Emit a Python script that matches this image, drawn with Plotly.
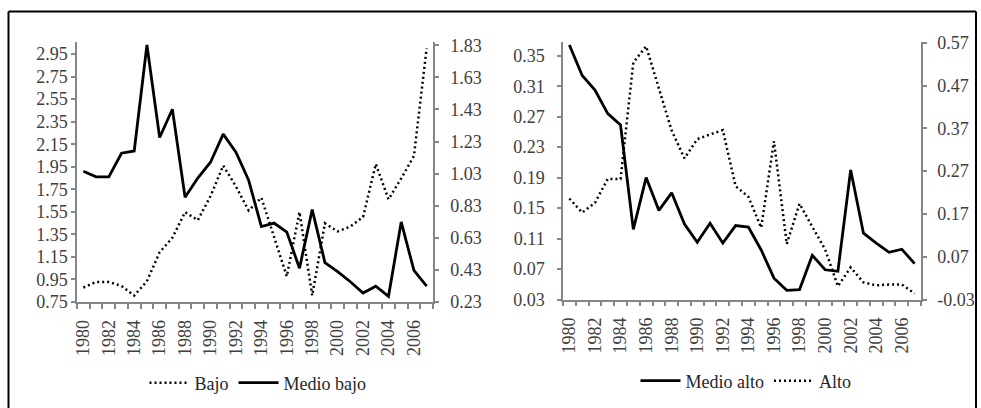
import plotly.graph_objects as go

years = list(range(1980, 2008))

bajo = [0.32, 0.355, 0.355, 0.33, 0.27, 0.36, 0.54, 0.63, 0.79, 0.74, 0.89, 1.08,
        0.95, 0.80, 0.88, 0.63, 0.39, 0.79, 0.27, 0.72, 0.67, 0.70, 0.76, 1.09,
        0.87, 1.00, 1.14, 1.81]
medio_bajo = [1.91, 1.86, 1.86, 2.07, 2.09, 3.03, 2.21, 2.46, 1.68, 1.85, 1.99, 2.24,
              2.08, 1.83, 1.42, 1.45, 1.37, 1.05, 1.57, 1.10, 1.02, 0.93, 0.83, 0.89,
              0.80, 1.46, 1.03, 0.89]
medio_alto = [0.364, 0.324, 0.305, 0.274, 0.259, 0.122, 0.190, 0.147, 0.170, 0.129,
              0.105, 0.130, 0.104, 0.127, 0.125, 0.095, 0.058, 0.042, 0.043, 0.088,
              0.069, 0.067, 0.200, 0.117, 0.104, 0.092, 0.096, 0.077]
alto = [0.206, 0.173, 0.196, 0.252, 0.252, 0.524, 0.562, 0.465, 0.365, 0.300,
        0.345, 0.356, 0.366, 0.235, 0.210, 0.138, 0.340, 0.100, 0.194, 0.140,
        0.087, 0.001, 0.045, 0.010, 0.003, 0.005, 0.005, -0.016]

x_ticks = list(range(1980, 2007, 2))
y1_ticks = [0.75, 0.95, 1.15, 1.35, 1.55, 1.75, 1.95, 2.15, 2.35, 2.55, 2.75, 2.95]
y2_ticks = [0.23, 0.43, 0.63, 0.83, 1.03, 1.23, 1.43, 1.63, 1.83]
y3_ticks = [0.03, 0.07, 0.11, 0.15, 0.19, 0.23, 0.27, 0.31, 0.35]
y4_ticks = [-0.03, 0.07, 0.17, 0.27, 0.37, 0.47, 0.57]

W, H = 981, 408
FONT = "Liberation Serif"
AX = "#868686"
TXT = "#404040"
FS = 18

fig = go.Figure()
fig.add_trace(go.Scatter(x=years, y=bajo, name="Bajo", xaxis="x", yaxis="y2",
                         mode="lines", line=dict(color="black", width=2.5, dash="2px,3px"),
                         legend="legend"))
fig.add_trace(go.Scatter(x=years, y=medio_bajo, name="Medio bajo", xaxis="x", yaxis="y",
                         mode="lines", line=dict(color="black", width=2.8),
                         legend="legend"))
fig.add_trace(go.Scatter(x=years, y=medio_alto, name="Medio alto", xaxis="x2", yaxis="y3",
                         mode="lines", line=dict(color="black", width=2.8),
                         legend="legend2"))
fig.add_trace(go.Scatter(x=years, y=alto, name="Alto", xaxis="x2", yaxis="y4",
                         mode="lines", line=dict(color="black", width=2.5, dash="2px,3px"),
                         legend="legend2"))


def px_x(p):
    return p / W


def px_y(p):
    return 1 - p / H


def xax(domain, anchor):
    return dict(domain=domain, anchor=anchor, range=[1979.5, 2007.5],
                tickmode="array", tickvals=x_ticks, ticktext=[str(v) for v in x_ticks],
                tickangle=-90, ticks="", ticklen=0, automargin=False,
                ticklabelstandoff=9,
                minor=dict(ticks="outside", tickmode="linear", tick0=1979.5, dtick=1,
                           ticklen=5, tickcolor=AX, tickwidth=1.5, showgrid=False),
                showline=True, linecolor=AX, linewidth=1.5, showgrid=False,
                zeroline=False, tickfont=dict(family=FONT, size=FS, color=TXT),
                fixedrange=True)


def yax(domain, anchor, rng, ticks, fmt, side="left", overlaying=None, standoff=0):
    d = dict(domain=domain, anchor=anchor, range=rng, side=side, automargin=False,
             tickmode="array", tickvals=ticks, ticktext=[fmt.format(v) for v in ticks],
             ticks="outside", ticklen=4, tickcolor=AX, tickwidth=1.5,
             ticklabelstandoff=standoff,
             showline=True, linecolor=AX, linewidth=1.5, showgrid=False,
             zeroline=False, tickfont=dict(family=FONT, size=FS, color=TXT),
             fixedrange=True)
    if overlaying:
        d["overlaying"] = overlaying
    return d


ydomL = [px_y(302), px_y(42)]
ydomR = [px_y(299.5), px_y(42)]

fig.update_layout(
    template="none",
    width=W, height=H, autosize=False,
    margin=dict(l=0, r=0, t=0, b=0, pad=0, autoexpand=False),
    paper_bgcolor="white", plot_bgcolor="white",
    font=dict(family=FONT, color=TXT),
    xaxis=xax([px_x(77), px_x(433)], "y"),
    xaxis2=xax([px_x(563), px_x(921)], "y3"),
    yaxis=yax(ydomL, "x", [0.75, 3.057], y1_ticks, "{:.2f}", standoff=0),
    yaxis2=yax(ydomL, "x", [0.23, 1.85], y2_ticks, "{:.2f}", side="right", overlaying="y",
               standoff=8),
    yaxis3=yax(ydomR, "x2", [0.03, 0.368], y3_ticks, "{:.2f}", standoff=9),
    yaxis4=yax(ydomR, "x2", [-0.03, 0.572], y4_ticks, "{:.2f}", side="right", overlaying="y3",
               standoff=7),
    legend=dict(orientation="h", x=px_x(258), y=px_y(383), xanchor="center", yanchor="middle",
                font=dict(family=FONT, size=FS, color="#262626"), bgcolor="rgba(0,0,0,0)",
                itemwidth=40),
    legend2=dict(orientation="h", x=px_x(746), y=px_y(381), xanchor="center", yanchor="middle",
                 font=dict(family=FONT, size=FS, color="#262626"), bgcolor="rgba(0,0,0,0)",
                 itemwidth=40),
    shapes=[
        dict(type="line", xref="paper", yref="paper", x0=px_x(8.5), x1=px_x(976),
             y0=px_y(11.5), y1=px_y(11.5), line=dict(color="black", width=2)),
        dict(type="line", xref="paper", yref="paper", x0=px_x(8.5), x1=px_x(8.5),
             y0=px_y(11.5), y1=px_y(410), line=dict(color="black", width=2)),
        dict(type="line", xref="paper", yref="paper", x0=px_x(976), x1=px_x(976),
             y0=px_y(11.5), y1=px_y(410), line=dict(color="black", width=2)),
    ],
    showlegend=True,
)

fig.write_html("out.html", config={"displayModeBar": False},
               post_script="document.body.style.margin='0';document.body.style.overflow='hidden';")
